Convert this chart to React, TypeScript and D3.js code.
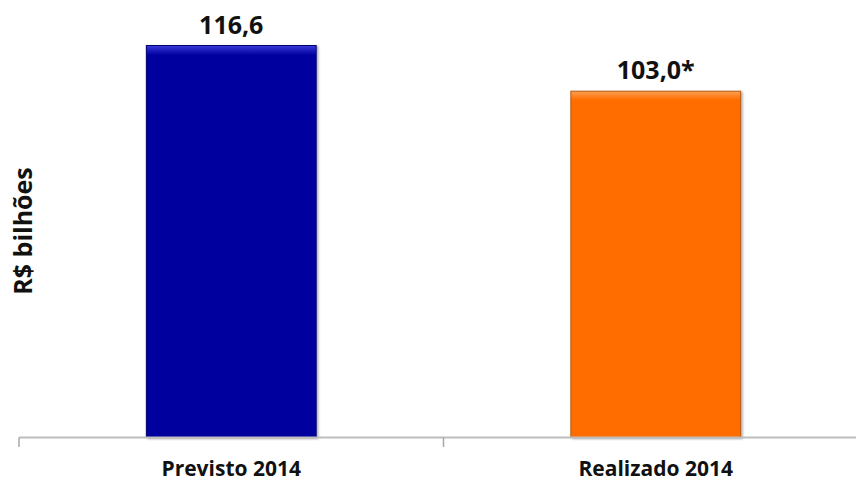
import React from "react";
import * as d3 from "d3";

const categories = ["Previsto 2014", "Realizado 2014"];
const values = [116.6, 103.0];
const valueLabels = ["116,6", "103,0*"];
const yAxisTitle = "R$ bilhões";

const W = 856;
const H = 483;
const FONT = "'Open Sans', sans-serif";

export default function App() {
  const x = d3.scaleBand<string>().domain(categories).range([19, 868]).paddingInner(0.6).paddingOuter(0.3);
  const y = d3.scaleLinear().domain([0, 116.6]).range([437.5, 45.5]);
  const step = x.step();
  const colors = ["blue", "orange"];
  const fills: Record<string, [string, string, string]> = {
    blue: ["#3a3ad8", "#00009e", "#000070"],
    orange: ["#ffa050", "#ff6c02", "#b85a10"],
  };
  const ticks = [0, 1, 2].map((i) => 19 + i * step);
  return (
    <svg width={W} height={H} style={{ position: "absolute", left: 0, top: 0, background: "#fff" }}>
      <defs>
        {colors.map((c) => (
          <linearGradient key={c} id={`g-${c}`} x1="0" y1="0" x2="0" y2="1">
            <stop offset="0" stopColor={fills[c][0]} />
            <stop offset="0.025" stopColor={fills[c][1]} />
            <stop offset="1" stopColor={fills[c][1]} />
          </linearGradient>
        ))}
        <filter id="sh" x="-10%" y="-10%" width="130%" height="130%">
          <feDropShadow dx="1.5" dy="1" stdDeviation="1" floodColor="#000" floodOpacity="0.35" />
        </filter>
      </defs>
      {categories.map((c, i) => {
        const x0 = x(c)!;
        const bw = x.bandwidth();
        const y0 = y(values[i]);
        const h = y(0) - y0;
        const col = colors[i];
        return (
          <g key={c}>
            <rect x={x0} y={y0} width={bw} height={h} fill={`url(#g-${col})`} stroke={fills[col][2]} strokeWidth={1} filter="url(#sh)" />
            <text x={x0 + bw / 2} y={y0 - 12} textAnchor="middle" fontFamily={FONT} fontWeight="bold" fontSize={25} fill="#111">
              {valueLabels[i]}
            </text>
            <text x={x0 + bw / 2} y={476} textAnchor="middle" fontFamily={FONT} fontWeight="bold" fontSize={21} fill="#111">
              {c}
            </text>
          </g>
        );
      })}
      <line x1={19} x2={W} y1={437.5} y2={437.5} stroke="#bdbdbd" strokeWidth={2} />
      {ticks.map((t, i) => (
        <line key={i} x1={t} x2={t} y1={437.5} y2={447} stroke="#a8a8a8" strokeWidth={1.5} />
      ))}
      <text transform="translate(32,231) rotate(-90)" textAnchor="middle" fontFamily={FONT} fontWeight="bold" fontSize={25} fill="#111">
        {yAxisTitle}
      </text>
    </svg>
  );
}
